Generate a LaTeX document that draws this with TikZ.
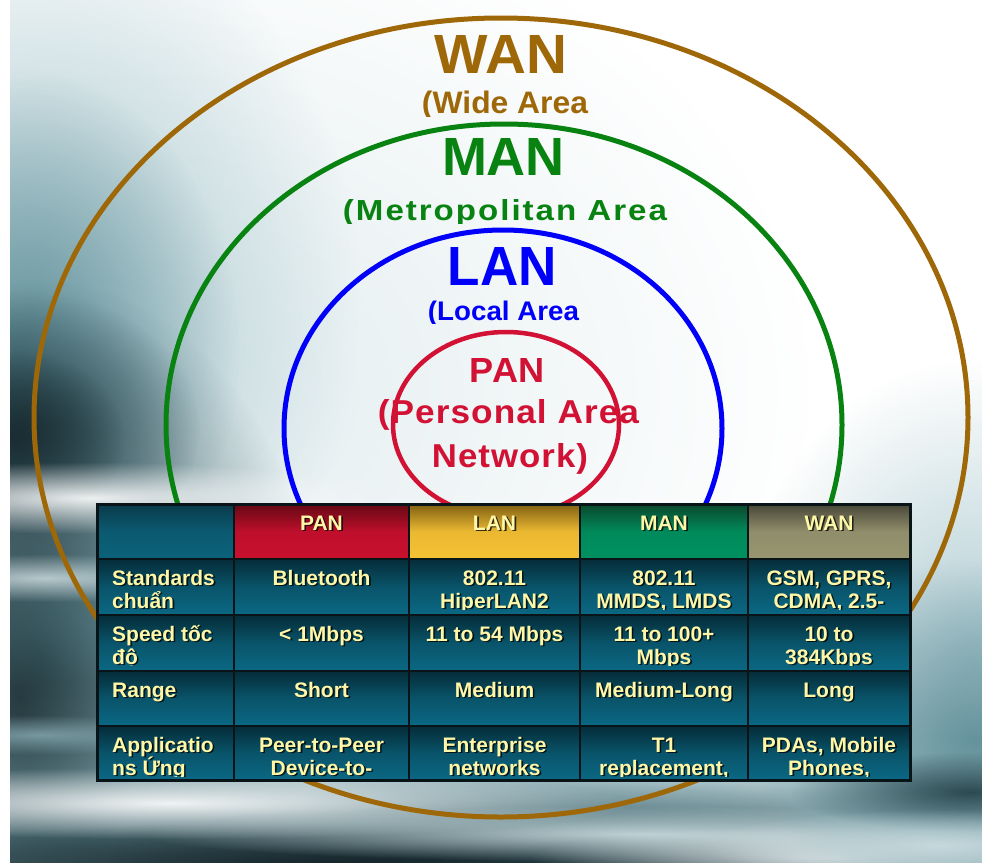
\documentclass[tikz,border=0pt]{standalone}
\usepackage{fontspec}
\setmainfont{Liberation Sans}
\usepackage{graphicx}
\usetikzlibrary{fadings}

% ring and label colours
\definecolor{wanbrown}{RGB}{158,103,8}
\definecolor{mangreen}{RGB}{8,130,16}
\definecolor{lanblue}{RGB}{0,0,250}
\definecolor{panred}{RGB}{210,18,52}
% table colours
\definecolor{celltop}{RGB}{5,44,56}
\definecolor{cellmid}{RGB}{9,84,106}
\definecolor{cellbot}{RGB}{11,104,132}
\definecolor{tabyellow}{RGB}{255,247,168}
\definecolor{gridcol}{RGB}{8,20,24}
\definecolor{hdtop}{RGB}{10,58,74}\definecolor{hdbot}{RGB}{11,98,122}
\definecolor{pantop}{RGB}{100,8,20}\definecolor{panbot}{RGB}{200,16,46}
\definecolor{lantop}{RGB}{128,96,20}\definecolor{lanbot}{RGB}{246,194,52}
\definecolor{mantop}{RGB}{10,72,44}\definecolor{manbot}{RGB}{0,145,96}
\definecolor{wantop}{RGB}{72,70,56}\definecolor{wanbot}{RGB}{152,150,112}
% backdrop tones
\definecolor{hazepale}{RGB}{212,228,231}
\definecolor{hazelight}{RGB}{166,198,205}
\definecolor{hazemid}{RGB}{92,140,150}
\definecolor{hazedark}{RGB}{36,64,72}
\definecolor{hazedeep}{RGB}{18,32,36}

% soft, fuzzy-edged patch for the photographic backdrop (radii = visible extent)
\tikzfading[name=softblob, inner color=transparent!0, outer color=transparent!100]
\newcommand\blob[6]{\fill[#1, opacity=#6, path fading=softblob] (#2,#3) ellipse [x radius={2*#4}, y radius={2*#5}];}

% large ring caption: name, colour, x, baseline, width, height, text
\newcommand\ringlabel[7]{\node[inner sep=0, anchor=base, text=#2] (#1) at (#3,#4) {\resizebox{#5bp}{#6bp}{\bfseries #7}};}

% table text with a dark drop shadow: name, anchor, x, y, text
\newcommand\tabtext[5]{%
  \node[tabfont, text=black, opacity=.75, anchor=#2] (#1s) at ({#3+1.6},{#4+1.6}) {#5};
  \node[tabfont, text=tabyellow, anchor=#2] (#1) at ({#3},{#4}) {#5};}

% centred cell: name, x0, x1, row top, line 1, line 2 (clipped at the cell foot)
\newcommand\midcell[6]{%
  \begin{scope}
    \clip (#2,#4) rectangle (#3,{#4+50.5});
    \tabtext{#1a}{base}{(#2+#3)/2}{#4+26}{#5}
    \if\relax\detokenize{#6}\relax\else\tabtext{#1b}{base}{(#2+#3)/2}{#4+49}{#6}\fi
  \end{scope}}

% left-aligned row heading: name, row top, line 1, line 2
\newcommand\leftcell[4]{%
  \begin{scope}
    \clip (97,#2) rectangle (234,{#2+50.5});
    \tabtext{#1a}{base west}{112}{#2+26}{#3}
    \if\relax\detokenize{#4}\relax\else\tabtext{#1b}{base west}{112}{#2+49}{#4}\fi
  \end{scope}}

\begin{document}
\begin{tikzpicture}[x=1bp, y=-1bp,
    ring/.style={line width=5bp},
    tabfont/.style={font=\fontsize{21bp}{23bp}\selectfont\bfseries, inner sep=0},
    gridline/.style={draw=gridcol, line width=2.5bp}]
\useasboundingbox (0,0) rectangle (982,863);
\fill[white] (0,0) rectangle (982,863);

% photographic backdrop: teal haze and streaks
\begin{scope}
  \clip (10,0) rectangle (982,863);
  % soft haze on the left half
  \blob{hazepale}{150}{390}{330}{250}{.7}
  \blob{hazelight}{40}{300}{160}{200}{.9}
  \blob{hazemid}{20}{350}{110}{140}{.9}
  \blob{hazedark}{20}{430}{90}{70}{.95}
  \blob{hazedeep}{15}{440}{55}{45}{.95}
  % dark lower-left
  \blob{hazedark}{40}{660}{140}{190}{.95}
  \blob{hazedeep}{20}{700}{60}{110}{.8}
  \blob{hazemid}{170}{620}{160}{60}{.6}
  % light streaks on the left
  \blob{white}{90}{498}{150}{18}{.9}
  \blob{hazepale}{45}{578}{100}{12}{.8}
  \blob{hazelight}{40}{735}{80}{10}{.7}
  % bottom band
  \blob{hazemid}{480}{850}{560}{90}{.95}
  \blob{hazedark}{420}{858}{420}{40}{.95}
  \blob{hazedeep}{330}{866}{260}{22}{.9}
  \blob{white}{170}{803}{230}{18}{.9}
  \blob{hazepale}{640}{834}{250}{14}{.85}
  \blob{white}{830}{858}{150}{16}{.7}
  % lower right
  \blob{hazelight}{975}{660}{120}{150}{.9}
  \blob{hazemid}{975}{740}{110}{90}{.9}
  \blob{hazedark}{970}{792}{90}{20}{.9}
  \blob{hazepale}{940}{845}{120}{18}{.8}
\end{scope}

% nested coverage rings
\draw[ring, wanbrown] (501,417.5) ellipse [x radius=467, y radius=399.5];
\draw[ring, mangreen] (504,425) ellipse [x radius=338, y radius=301];
\draw[ring, lanblue] (503,428.5) ellipse [x radius=219, y radius=198.5];
\draw[ring, panred, line width=4.5bp] (506,424.5) ellipse [x radius=113, y radius=92.5];

% ring captions
\ringlabel{wanT}{wanbrown}{501}{73}{132}{38}{WAN}
\begin{scope}\clip (300,80) rectangle (720,116);
\ringlabel{wanS}{wanbrown}{505}{113}{166}{22.5}{(Wide Area}
\end{scope}
\ringlabel{manT}{mangreen}{503.5}{175}{123}{37}{MAN}
\begin{scope}\clip (300,190) rectangle (720,223);
\ringlabel{manS}{mangreen}{505}{220}{324}{21}{\addfontfeature{LetterSpace=6}(Metropolitan Area}
\end{scope}
\ringlabel{lanT}{lanblue}{502.5}{285}{109}{38}{LAN}
\begin{scope}\clip (300,295) rectangle (720,323);
\ringlabel{lanS}{lanblue}{503.5}{320}{151}{19.5}{(Local Area}
\end{scope}
\ringlabel{panT}{panred}{507.5}{382}{75}{24}{\addfontfeature{LetterSpace=2}PAN}
\ringlabel{panS}{panred}{508.5}{423}{261}{24}{\addfontfeature{LetterSpace=3}(Personal Area}
\ringlabel{panN}{panred}{510}{467}{156}{24}{\addfontfeature{LetterSpace=3}Network)}

% comparison table: cell backgrounds
\shade[top color=hdtop, bottom color=hdbot, middle color=hdbot!80!hdtop] (97,504) rectangle (234,559);
\shade[top color=pantop, bottom color=panbot, middle color=panbot!90!pantop] (234,504) rectangle (409,559);
\shade[top color=lantop, bottom color=lanbot, middle color=lanbot!90!lantop] (409,504) rectangle (580,559);
\shade[top color=mantop, bottom color=manbot, middle color=manbot!90!mantop] (580,504) rectangle (748,559);
\shade[top color=wantop, bottom color=wanbot, middle color=wanbot!90!wantop] (748,504) rectangle (910,559);
\foreach \ya/\yb in {559/615, 615/671, 671/726, 726/780}
  \foreach \xa/\xb in {97/234, 234/409, 409/580, 580/748, 748/910}
    \shade[top color=celltop, bottom color=cellbot, middle color=cellmid] (\xa,\ya) rectangle (\xb,\yb);

% grid
\foreach \gx in {234, 409, 580, 748}
  \draw[gridline] (\gx,504) -- (\gx,780);
\foreach \gy in {559, 615, 671, 726}
  \draw[gridline] (97,\gy) -- (910,\gy);
\draw[gridline, line width=3bp] (97,504) rectangle (910,780);

% header row
\midcell{hPAN}{234}{409}{504}{PAN}{}
\midcell{hLAN}{409}{580}{504}{LAN}{}
\midcell{hMAN}{580}{748}{504}{MAN}{}
\midcell{hWAN}{748}{910}{504}{WAN}{}

% standards
\leftcell{rStd}{559}{Standards}{chuẩn}
\midcell{stdPAN}{234}{409}{559}{Bluetooth}{}
\midcell{stdLAN}{409}{580}{559}{802.11}{HiperLAN2}
\midcell{stdMAN}{580}{748}{559}{802.11}{MMDS, LMDS}
\midcell{stdWAN}{748}{910}{559}{GSM, GPRS,}{CDMA, 2.5-}

% speed
\leftcell{rSpd}{615}{Speed tốc}{độ}
\midcell{spdPAN}{234}{409}{615}{< 1Mbps}{}
\midcell{spdLAN}{409}{580}{615}{11 to 54 Mbps}{}
\midcell{spdMAN}{580}{748}{615}{11 to 100+}{Mbps}
\midcell{spdWAN}{748}{910}{615}{10 to}{384Kbps}

% range
\leftcell{rRng}{671}{Range}{}
\midcell{rngPAN}{234}{409}{671}{Short}{}
\midcell{rngLAN}{409}{580}{671}{Medium}{}
\midcell{rngMAN}{580}{748}{671}{Medium-Long}{}
\midcell{rngWAN}{748}{910}{671}{Long}{}

% applications
\leftcell{rApp}{726}{Applicatio}{ns Ứng}
\midcell{appPAN}{234}{409}{726}{Peer-to-Peer}{Device-to-}
\midcell{appLAN}{409}{580}{726}{Enterprise}{networks}
\midcell{appMAN}{580}{748}{726}{T1}{replacement,}
\midcell{appWAN}{748}{910}{726}{PDAs, Mobile}{Phones,}
\end{tikzpicture}
\end{document}
